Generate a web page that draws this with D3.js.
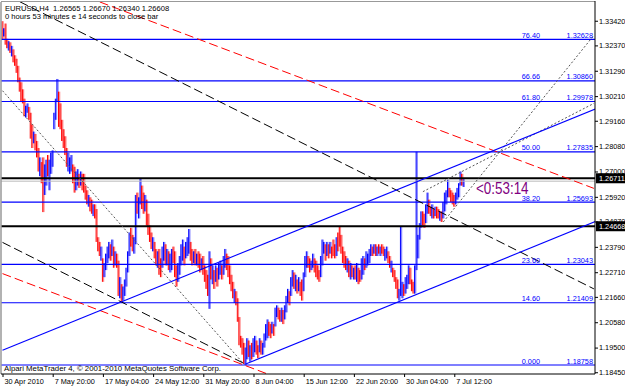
<!DOCTYPE html>
<html>
<head>
<meta charset="utf-8">
<script src="https://cdn.jsdelivr.net/npm/d3@7"></script>
<style>
body { margin: 0; background: #fff; }
svg { display: block; font-family: "Liberation Sans", Arial, sans-serif; }
</style>
</head>
<body>
<svg id="chart" width="625" height="387"></svg>
<script>
// EURUSD H4 bars, one entry per bar (index 0 = 30 Apr 2010 12:00)
const highs = [
  1.3340,1.3310,1.3330,1.3265,1.3255,1.3250,1.3235,1.3220,1.3195,1.3180,
  1.3150,1.3100,1.3080,1.3050,1.3010,1.2980,1.2990,1.2975,1.2950,1.2900,
  1.2870,1.2860,1.2830,1.2800,1.2760,1.2740,1.2760,1.2730,1.2750,1.2770,
  1.2750,1.2780,1.2790,1.2950,1.3010,1.3094,1.3040,1.2990,1.2920,1.2880,
  1.2850,1.2800,1.2780,1.2760,1.2770,1.2730,1.2720,1.2700,1.2710,1.2690,
  1.2700,1.2690,1.2690,1.2640,1.2620,1.2600,1.2590,1.2580,1.2560,1.2560,
  1.2540,1.2420,1.2400,1.2380,1.2330,1.2310,1.2350,1.2380,1.2400,1.2390,
  1.2410,1.2380,1.2360,1.2350,1.2320,1.2250,1.2220,1.2210,1.2240,1.2290,
  1.2360,1.2440,1.2460,1.2430,1.2420,1.2600,1.2610,1.2590,1.2671,1.2640,
  1.2610,1.2600,1.2580,1.2520,1.2470,1.2440,1.2420,1.2400,1.2370,1.2360,
  1.2370,1.2330,1.2380,1.2400,1.2390,1.2370,1.2360,1.2350,1.2370,1.2380,
  1.2360,1.2300,1.2310,1.2340,1.2390,1.2410,1.2380,1.2400,1.2420,1.2455,
  1.2400,1.2370,1.2360,1.2370,1.2350,1.2360,1.2350,1.2330,1.2340,1.2300,
  1.2280,1.2260,1.2360,1.2330,1.2300,1.2280,1.2300,1.2290,1.2310,1.2320,
  1.2300,1.2340,1.2370,1.2350,1.2340,1.2300,1.2260,1.2230,1.2200,1.2190,
  1.2160,1.2080,1.2000,1.1990,1.1970,1.1950,1.1990,1.1980,1.1960,1.1970,
  1.1990,1.2000,1.1980,1.1960,1.1990,1.1980,1.1970,1.2010,1.2050,1.2070,
  1.2060,1.2050,1.2060,1.2050,1.2120,1.2130,1.2120,1.2110,1.2120,1.2110,
  1.2130,1.2170,1.2200,1.2190,1.2250,1.2280,1.2270,1.2260,1.2240,1.2250,
  1.2230,1.2240,1.2270,1.2340,1.2360,1.2340,1.2330,1.2320,1.2350,1.2330,
  1.2320,1.2300,1.2280,1.2340,1.2410,1.2400,1.2390,1.2400,1.2390,1.2400,
  1.2380,1.2410,1.2390,1.2420,1.2440,1.2467,1.2430,1.2380,1.2360,1.2340,
  1.2330,1.2320,1.2310,1.2300,1.2290,1.2300,1.2310,1.2290,1.2280,1.2330,
  1.2340,1.2330,1.2360,1.2350,1.2370,1.2390,1.2380,1.2390,1.2390,1.2380,
  1.2390,1.2380,1.2390,1.2380,1.2370,1.2380,1.2360,1.2340,1.2320,1.2290,
  1.2280,1.2250,1.2240,1.2200,1.2467,1.2230,1.2220,1.2250,1.2260,1.2300,
  1.2290,1.2240,1.2230,1.2300,1.2784,1.2430,1.2480,1.2530,1.2530,1.2520,
  1.2560,1.2610,1.2580,1.2550,1.2560,1.2540,1.2550,1.2550,1.2540,1.2530,
  1.2530,1.2570,1.2610,1.2620,1.2664,1.2630,1.2620,1.2610,1.2600,1.2610,
  1.2630,1.2650,1.2700,1.2690,1.2667
];
const lows = [
  1.3262,1.3275,1.3240,1.3225,1.3215,1.3205,1.3190,1.3165,1.3150,1.3120,
  1.3080,1.3040,1.3000,1.2990,1.2935,1.2930,1.2950,1.2920,1.2840,1.2800,
  1.2820,1.2790,1.2760,1.2700,1.2680,1.2650,1.2527,1.2600,1.2640,1.2680,
  1.2620,1.2690,1.2720,1.2880,1.2920,1.3000,1.2890,1.2880,1.2830,1.2800,
  1.2770,1.2720,1.2700,1.2690,1.2700,1.2650,1.2610,1.2620,1.2640,1.2630,
  1.2640,1.2620,1.2610,1.2580,1.2560,1.2550,1.2530,1.2520,1.2510,1.2500,
  1.2400,1.2360,1.2340,1.2320,1.2230,1.2250,1.2280,1.2310,1.2330,1.2320,
  1.2340,1.2290,1.2300,1.2290,1.2170,1.2160,1.2143,1.2150,1.2170,1.2210,
  1.2270,1.2340,1.2380,1.2360,1.2350,1.2390,1.2520,1.2500,1.2560,1.2540,
  1.2520,1.2530,1.2470,1.2430,1.2400,1.2370,1.2360,1.2330,1.2300,1.2290,
  1.2260,1.2250,1.2290,1.2320,1.2300,1.2300,1.2280,1.2270,1.2280,1.2310,
  1.2250,1.2210,1.2230,1.2260,1.2300,1.2320,1.2300,1.2330,1.2340,1.2350,
  1.2320,1.2300,1.2310,1.2300,1.2300,1.2290,1.2270,1.2280,1.2260,1.2230,
  1.2200,1.2170,1.2115,1.2240,1.2220,1.2200,1.2230,1.2210,1.2240,1.2260,
  1.2240,1.2260,1.2290,1.2280,1.2250,1.2220,1.2190,1.2160,1.2140,1.2130,
  1.2060,1.1960,1.1950,1.1920,1.1880,1.1876,1.1900,1.1910,1.1890,1.1900,
  1.1910,1.1930,1.1920,1.1905,1.1930,1.1920,1.1920,1.1950,1.1980,1.1990,
  1.2000,1.1990,1.2010,1.2000,1.2040,1.2080,1.2070,1.2060,1.2060,1.2050,
  1.2070,1.2100,1.2140,1.2130,1.2170,1.2210,1.2200,1.2190,1.2180,1.2190,
  1.2170,1.2150,1.2190,1.2250,1.2290,1.2290,1.2270,1.2280,1.2290,1.2270,
  1.2250,1.2240,1.2230,1.2250,1.2300,1.2350,1.2320,1.2340,1.2330,1.2350,
  1.2330,1.2340,1.2330,1.2340,1.2360,1.2380,1.2350,1.2310,1.2290,1.2280,
  1.2270,1.2250,1.2240,1.2250,1.2240,1.2240,1.2230,1.2220,1.2230,1.2240,
  1.2260,1.2280,1.2290,1.2300,1.2310,1.2340,1.2340,1.2350,1.2340,1.2340,
  1.2350,1.2340,1.2350,1.2340,1.2320,1.2330,1.2310,1.2290,1.2270,1.2250,
  1.2230,1.2200,1.2160,1.2150,1.2170,1.2160,1.2170,1.2180,1.2200,1.2220,
  1.2220,1.2190,1.2180,1.2180,1.2280,1.2330,1.2410,1.2460,1.2470,1.2460,
  1.2480,1.2520,1.2520,1.2510,1.2500,1.2500,1.2510,1.2500,1.2500,1.2490,
  1.2485,1.2500,1.2530,1.2560,1.2590,1.2590,1.2570,1.2560,1.2550,1.2560,
  1.2580,1.2590,1.2640,1.2640,1.2634
];
// u = bull (blue), d = bear (red)
const dirs = (
  "duddududdd" + "ddddduuddd" + "udddudduud" + "uuuuuudddd" + "dduuudduud" +
  "udddduddud" + "ddduduuuud" + "ududduduuu" + "uudduuduud" + "dudddduddu" +
  "dduududuud" + "dduuuuduuu" + "ddududdudd" + "ddudududuu" + "duudddddud" +
  "ddddduudud" + "uudduduuuu" + "dduduuddud" + "uuuduududu" + "dduuudduud" +
  "ddduuududu" + "dddudddddd" + "ududududdu" + "uduuuududu" + "dudduuddud" +
  "ddduuuduuu" + "ddduuuuudd" + "uuddududdu" + "duuuuddddu" + "uuudu"
).split("");

const timeIdx = [0, 32, 64, 96, 128, 160, 192, 224, 256, 288];
const timeLabels = ["30 Apr 2010", "7 May 20:00", "17 May 04:00", "24 May 12:00", "31 May 20:00",
  "8 Jun 04:00", "15 Jun 12:00", "22 Jun 20:00", "30 Jun 04:00", "7 Jul 12:00"];
const priceTicks = [1.33420, 1.32370, 1.31290, 1.30210, 1.29160, 1.28080, 1.27000, 1.25920,
  1.24870, 1.23790, 1.22710, 1.21660, 1.20580, 1.19500, 1.18450];

const fibLevels = ["0.000", "14.60", "23.60", "38.20", "50.00", "61.80", "66.66", "76.40"];
const fibPrices = [1.18758, 1.21409, 1.23043, 1.25693, 1.27835, 1.29978, 1.30860, 1.32628];
const hLines = [1.26711, 1.24668];   // black horizontal lines with price boxes
const bidPrice = 1.26608;

// trend lines: [bar index, price] -> [bar index, price]
const redLines = [[[62, 1.3422], [377, 1.2628]], [[0, 1.2265], [168, 1.1840]]];
const blackDash = [[[11, 1.3423], [377, 1.2200]], [[0, 1.2398], [155, 1.1879]]];
const blueLines = [[[0, 1.1939], [378, 1.2966]], [[155, 1.1880], [378, 1.2487]]];
const dotLines = [[[0, 1.3044], [154, 1.1879]], [[281, 1.2485], [377, 1.3280]], [[268, 1.2614], [377, 1.2990]]];

const title1 = "EURUSD,H4  1.26565 1.26670 1.26340 1.26608";
const title2 = "0 hours 53 minutes e 14 seconds to close bar";
const timer = "<0:53:14";
const copyright = "Alpari MetaTrader 4, \u00a9 2001-2010 MetaQuotes Software Corp.";

const svg = d3.select("#chart");
const plot = { left: 1, right: 595, top: 2, bottom: 374 };
const fs = 7.3;

const x = d3.scaleLinear().domain([0, 377]).range([2.5, 2.5 + 377 * 1.5687]);
const y = d3.scaleLinear().domain([1.18375, 1.34218]).range([374, 2]);

svg.append("clipPath").attr("id", "clip")
  .append("rect")
  .attr("x", plot.left).attr("y", plot.top)
  .attr("width", plot.right - plot.left).attr("height", plot.bottom - plot.top);

const g = svg.append("g").attr("clip-path", "url(#clip)");

// bars
const bars = highs.map((h, i) => ({ i, h, l: lows[i], up: dirs[i] === "u" }));
g.selectAll(".barbg").data(bars).enter().append("rect")
  .attr("x", d => x(d.i) - 0.2)
  .attr("y", d => y(d.h))
  .attr("width", 1.5)
  .attr("height", d => Math.max(1, y(d.l) - y(d.h)))
  .attr("fill", d => d.up ? "#8a8aff" : "#ff8a8a");
g.selectAll(".bar").data(bars).enter().append("line")
  .attr("x1", d => x(d.i) - 0.5).attr("x2", d => x(d.i) - 0.5)
  .attr("y1", d => y(d.h)).attr("y2", d => y(d.l))
  .attr("stroke", d => d.up ? "#0000ff" : "#ff0000")
  .attr("stroke-width", 1);

// fibo levels
g.selectAll(".fib").data(fibPrices).enter().append("line")
  .attr("x1", plot.left).attr("x2", plot.right)
  .attr("y1", d => y(d)).attr("y2", d => y(d))
  .attr("stroke", "#0000ff").attr("stroke-width", 1.1);

// bid line and black horizontal lines
g.append("line")
  .attr("x1", plot.left).attr("x2", plot.right)
  .attr("y1", y(bidPrice) + 0.5).attr("y2", y(bidPrice) + 0.5)
  .attr("stroke", "#bbbbbb").attr("stroke-width", 1);
g.selectAll(".hl").data(hLines).enter().append("line")
  .attr("x1", plot.left).attr("x2", plot.right)
  .attr("y1", d => y(d)).attr("y2", d => y(d))
  .attr("stroke", "#000").attr("stroke-width", 2);

const line = d3.line().x(d => x(d[0])).y(d => y(d[1]));
function drawLines(data, color, dash, width) {
  g.selectAll(null).data(data).enter().append("path")
    .attr("d", line)
    .attr("fill", "none")
    .attr("stroke", color)
    .attr("stroke-width", width)
    .attr("stroke-dasharray", dash);
}
drawLines(redLines, "#ff0000", "9,4", 1);
drawLines(blackDash, "#000", "9,4", 1);
drawLines(dotLines, "#555", "2,2", 1);
drawLines(blueLines, "#0000ff", null, 1.1);

// frame
svg.append("line").attr("x1", 1).attr("x2", 1).attr("y1", plot.top).attr("y2", plot.bottom)
  .attr("stroke", "#999").attr("stroke-width", 1.5);
svg.append("line").attr("x1", 1).attr("x2", plot.right).attr("y1", 1.5).attr("y2", 1.5)
  .attr("stroke", "#999").attr("stroke-width", 1);
svg.append("line").attr("x1", plot.right).attr("x2", plot.right).attr("y1", 1).attr("y2", plot.bottom)
  .attr("stroke", "#000").attr("stroke-width", 1);
svg.append("line").attr("x1", 1).attr("x2", plot.right).attr("y1", plot.bottom).attr("y2", plot.bottom)
  .attr("stroke", "#000").attr("stroke-width", 1);

// right price axis
const yAxis = svg.append("g")
  .attr("transform", `translate(${plot.right},0)`)
  .call(d3.axisRight(y).tickValues(priceTicks).tickSize(3).tickPadding(1).tickFormat(d3.format(".5f")));
yAxis.select(".domain").remove();
yAxis.selectAll("text").attr("font-size", fs).attr("font-family", "Liberation Sans, Arial, sans-serif").attr("fill", "#000");

// price boxes
const boxes = svg.selectAll(".pbox").data(hLines).enter().append("g")
  .attr("transform", d => `translate(${plot.right + 1},${y(d)})`);
boxes.append("rect").attr("x", 0).attr("y", -5).attr("width", 30).attr("height", 10).attr("fill", "#000");
boxes.append("text").attr("x", 3).attr("y", 2.7).attr("font-size", fs).attr("fill", "#fff")
  .text(d => d.toFixed(5));

// bottom time axis
const xAxis = svg.append("g")
  .attr("transform", `translate(0,${plot.bottom})`)
  .call(d3.axisBottom(x).tickValues(timeIdx).tickSize(3).tickPadding(2).tickFormat((d, i) => timeLabels[i]));
xAxis.select(".domain").remove();
xAxis.selectAll("text").attr("font-size", fs).attr("font-family", "Liberation Sans, Arial, sans-serif")
  .attr("fill", "#000").attr("text-anchor", "start").attr("x", 1.5);

// fibo labels
const fl = svg.selectAll(".fibl").data(fibPrices).enter().append("g")
  .attr("transform", d => `translate(0,${y(d) - 1.5})`)
  .attr("font-size", fs).attr("fill", "#0000ff");
fl.append("text").attr("x", 540).attr("text-anchor", "end").text((d, i) => fibLevels[i]);
fl.append("text").attr("x", 593).attr("text-anchor", "end").text(d => d.toFixed(5));

// header text
svg.append("text").attr("x", 5).attr("y", 10.5).attr("font-size", 7.6).attr("fill", "#000")
  .style("white-space", "pre").text(title1);
svg.append("text").attr("x", 5).attr("y", 18.8).attr("font-size", 7.6).attr("fill", "#000")
  .text(title2);
svg.append("text").attr("x", 4).attr("y", 371).attr("font-size", 7.8).attr("fill", "#000")
  .text(copyright);

// bar timer
svg.append("text")
  .attr("transform", "translate(476,194) scale(0.79,1)")
  .attr("font-size", 17).attr("fill", "#800080")
  .text(timer);
</script>
</body>
</html>
